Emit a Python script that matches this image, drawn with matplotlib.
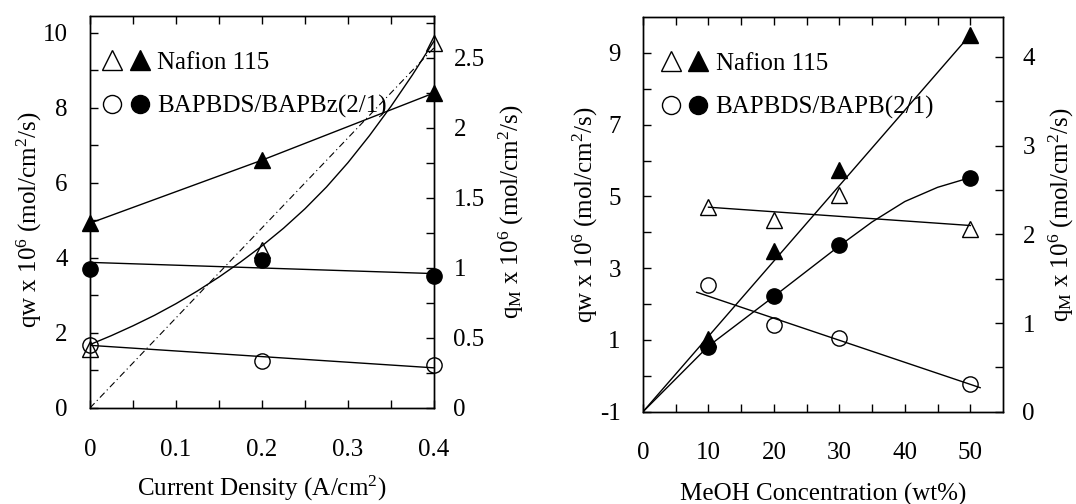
import matplotlib
matplotlib.use('Agg')
from matplotlib import pyplot as plt
from matplotlib.lines import Line2D
from matplotlib.legend_handler import HandlerTuple

plt.rcParams['font.family'] = ['Liberation Serif', 'DejaVu Serif']
plt.rcParams['mathtext.fontset'] = 'custom'
plt.rcParams['mathtext.rm'] = 'Liberation Serif'
plt.rcParams['mathtext.it'] = 'Liberation Serif:italic'
plt.rcParams['font.size'] = 18
plt.rcParams['axes.unicode_minus'] = False

# ---- left panel: flux vs current density
cd = [0.0, 0.2, 0.4]
naf_qw_cd = [1.56, 4.22, 9.73]   # open triangles (left axis)
naf_qm_cd = [1.32, 1.77, 2.25]   # filled triangles (right axis)
bap_qw_cd = [1.69, 1.26, 1.14]   # open circles (left axis)
bap_qm_cd = [0.99, 1.06, 0.94]   # filled circles (right axis)

# guide lines
naf_qw_fit_x = [0, 0.025, 0.05, 0.075, 0.1, 0.125, 0.15, 0.175, 0.2,
                0.225, 0.25, 0.275, 0.3, 0.325, 0.35, 0.375, 0.4]
naf_qw_fit_y = [1.69, 1.93, 2.19, 2.47, 2.78, 3.12, 3.49, 3.89, 4.32,
                4.79, 5.31, 5.89, 6.54, 7.26, 8.04, 8.88, 9.78]
drag_x = [0, 0.4]
drag_y = [0, 9.6]
bap_cd_fit_x = [0, 0.4]
bap_qw_cd_fit = [1.67, 1.07]
bap_qm_cd_fit = [1.04, 0.96]

cd_ticks = [0, 0.1, 0.2, 0.3, 0.4]
cd_labels = ['0', '0.1', '0.2', '0.3', '0.4']
qw_ticks1 = [0, 2, 4, 6, 8, 10]
qm_ticks1 = [0, 0.5, 1, 1.5, 2, 2.5]
qm_labels1 = ['0', '0.5', '1', '1.5', '2', '2.5']

# ---- right panel: flux vs MeOH concentration
conc = [10, 20, 30, 50]
naf_qw_c = [4.71, 4.33, 5.05, 4.10]
naf_qm_c = [0.82, 1.81, 2.73, 4.25]
bap_qw_c = [2.52, 1.43, 1.05, -0.24]
bap_qm_c = [0.73, 1.30, 1.88, 2.64]

naf_qw_c_fit_x = [10, 50]
naf_qw_c_fit_y = [4.70, 4.19]
naf_qm_c_fit_x = [0, 50]
naf_qm_c_fit_y = [0, 4.25]
bap_qw_c_fit_x = [8.2, 51.5]
bap_qw_c_fit_y = [2.33, -0.33]
bap_qm_c_fit_x = [0, 10, 20, 30, 35, 40, 45, 50]
bap_qm_c_fit_y = [0, 0.74, 1.30, 1.87, 2.14, 2.37, 2.53, 2.64]

conc_ticks = [0, 10, 20, 30, 40, 50]
qw_ticks2 = [-1, 1, 3, 5, 7, 9]
qm_ticks2 = [0, 1, 2, 3, 4]

ylab_w = 'qw x 10$^6$ (mol/cm$^2$/s)'
ylab_m = 'q$_\\mathrm{M}$ x 10$^6$ (mol/cm$^2$/s)'

op = dict(mfc='none', mec='k', mew=1.0, ls='none', clip_on=False)
fl = dict(color='k', mec='k', clip_on=False)
lw = 1.0


def style(ax, axr, xmaj, xmin, ymaj, ymin, rmaj, rmin):
    ax.set_xticks(xmaj)
    ax.set_xticks(xmin, minor=True)
    ax.set_yticks(ymaj)
    ax.set_yticks(ymin, minor=True)
    axr.set_yticks(rmaj)
    axr.set_yticks(rmin, minor=True)
    ax.tick_params(axis='both', which='both', direction='in', length=6, width=1,
                   top=True, right=False)
    ax.tick_params(axis='x', pad=22)
    ax.tick_params(axis='y', pad=16)
    axr.tick_params(axis='y', which='both', direction='in', length=6, width=1, pad=14)
    for a in (ax, axr):
        for s in a.spines.values():
            s.set_linewidth(1.0)


def legend(ax, name, x, y):
    h1 = (Line2D([], [], marker='^', ms=15, mfc='none', mec='k', ls='none'),
          Line2D([], [], marker='^', ms=15, color='k', ls='none'))
    h2 = (Line2D([], [], marker='o', ms=13, mfc='none', mec='k', ls='none'),
          Line2D([], [], marker='o', ms=13, color='k', ls='none'))
    ax.legend([h1, h2], ['Nafion 115', name],
              handler_map={tuple: HandlerTuple(ndivide=None, pad=0.1)},
              loc='upper left', bbox_to_anchor=(x, y), frameon=False,
              handlelength=2.1, handletextpad=0.2, labelspacing=0.85,
              borderaxespad=0, borderpad=0)


fig = plt.figure(figsize=(10.76, 5.04), dpi=100)

# left panel
ax1 = fig.add_axes([0.0836, 0.1905, 0.3197, 0.7778])
ax1r = ax1.twinx()
ax1.plot(naf_qw_fit_x, naf_qw_fit_y, color='k', lw=lw)
ax1.plot(drag_x, drag_y, color='k', lw=0.8, ls=(0, (6, 3, 1, 3)))
ax1.plot(bap_cd_fit_x, bap_qw_cd_fit, color='k', lw=lw)
ax1.plot(cd, naf_qw_cd, marker='^', ms=12, **op)
ax1.plot(cd, bap_qw_cd, marker='o', ms=11, **op)
ax1r.plot(cd, naf_qm_cd, marker='^', ms=12, lw=lw, **fl)
ax1r.plot(bap_cd_fit_x, bap_qm_cd_fit, color='k', lw=lw)
ax1r.plot(cd, bap_qm_cd, marker='o', ms=11, ls='none', **fl)
ax1.set_xlim(0, 0.4)
ax1.set_ylim(0, 10.45)
ax1r.set_ylim(0, 2.8)
style(ax1, ax1r, cd_ticks, [0.05, 0.15, 0.25, 0.35], qw_ticks1, list(range(1, 11, 2)),
      qm_ticks1, [0.25, 0.75, 1.25, 1.75, 2.25, 2.75])
ax1.set_xticklabels(cd_labels)
ax1r.set_yticklabels(qm_labels1)
ax1.set_xlabel('Current Density (A/cm$^2$)')
ax1.xaxis.set_label_coords(0.5, -0.168)
ax1.set_ylabel(ylab_w)
ax1.yaxis.set_label_coords(-0.134, 0.48)
ax1r.set_ylabel(ylab_m)
ax1r.yaxis.set_label_coords(1.183, 0.5)
legend(ax1r, 'BAPBDS/BAPBz(2/1)', 0.029, 0.91)

# right panel
ax2 = fig.add_axes([0.5976, 0.1831, 0.3346, 0.7831])
ax2r = ax2.twinx()
ax2.plot(naf_qw_c_fit_x, naf_qw_c_fit_y, color='k', lw=lw)
ax2.plot(bap_qw_c_fit_x, bap_qw_c_fit_y, color='k', lw=lw)
ax2.plot(conc, naf_qw_c, marker='^', ms=12, **op)
ax2.plot(conc, bap_qw_c, marker='o', ms=11, **op)
ax2r.plot(naf_qm_c_fit_x, naf_qm_c_fit_y, color='k', lw=lw)
ax2r.plot(bap_qm_c_fit_x, bap_qm_c_fit_y, color='k', lw=lw)
ax2r.plot(conc, naf_qm_c, marker='^', ms=12, ls='none', **fl)
ax2r.plot(conc, bap_qm_c, marker='o', ms=11, ls='none', **fl)
ax2.set_xlim(0, 55)
ax2.set_ylim(-1, 10)
ax2r.set_ylim(0, 4.45)
style(ax2, ax2r, conc_ticks, [5, 15, 25, 35, 45], qw_ticks2, [0, 2, 4, 6, 8],
      qm_ticks2, [0.5, 1.5, 2.5, 3.5])
ax2.set_xlabel('MeOH Concentration (wt%)')
ax2.xaxis.set_label_coords(0.5, -0.18)
ax2.set_ylabel(ylab_w)
ax2.yaxis.set_label_coords(-0.119, 0.5)
ax2r.set_ylabel(ylab_m)
ax2r.yaxis.set_label_coords(1.122, 0.5)
legend(ax2r, 'BAPBDS/BAPB(2/1)', 0.042, 0.91)

fig.savefig('out.png', dpi=100)
